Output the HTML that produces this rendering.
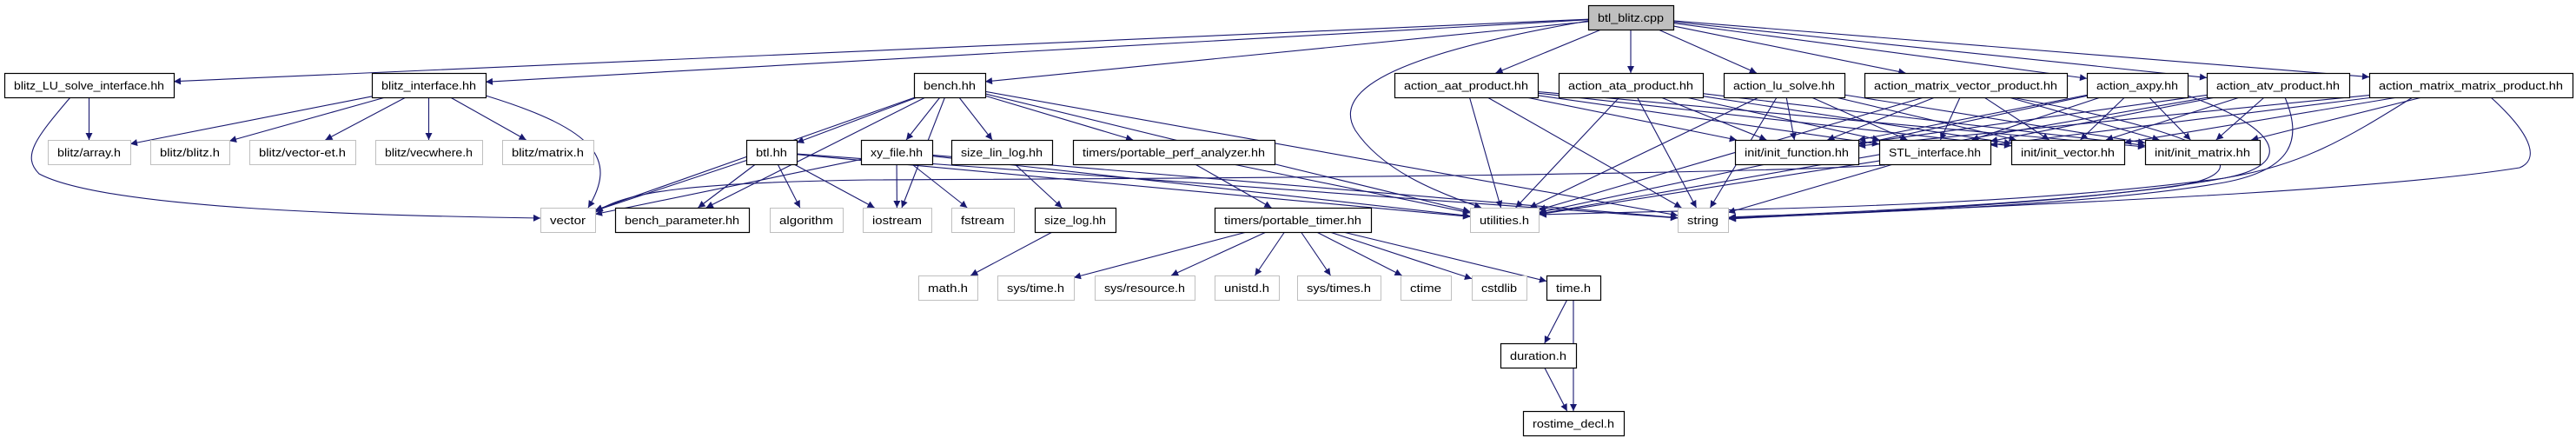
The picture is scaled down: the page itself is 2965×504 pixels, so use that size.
<!DOCTYPE html>
<html><head><meta charset="utf-8">
<style>
html,body{margin:0;padding:0;background:#fff;}
svg{display:block;}
text{font-family:"Liberation Sans",sans-serif;font-size:13px;fill:#000;}
</style></head>
<body>
<svg id="g" xmlns="http://www.w3.org/2000/svg" width="2965" height="504" viewBox="0 0 2965 504">
<defs><marker id="ah" viewBox="0 0 10 10" refX="10" refY="5" markerWidth="10" markerHeight="8" markerUnits="userSpaceOnUse" orient="auto"><path d="M0,0 L10,5 L0,10 z" fill="#191970"/></marker></defs>
<g id="edges"></g><g id="nodes"></g>
</svg>
<script>
var R=[6,84,161,239,317,395,473],H=28;
var N={
"btl_blitz.cpp":[1828,1926,0,"c"],
"blitz_LU_solve_interface.hh":[5,200,1,"b"],
"blitz_interface.hh":[428,559,1,"b"],
"bench.hh":[1052,1134,1,"b"],
"action_aat_product.hh":[1605,1770,1,"b"],
"action_ata_product.hh":[1794,1960,1,"b"],
"action_lu_solve.hh":[1984,2123,1,"b"],
"action_matrix_vector_product.hh":[2146,2379,1,"b"],
"action_axpy.hh":[2402,2518,1,"b"],
"action_atv_product.hh":[2540,2704,1,"b"],
"action_matrix_matrix_product.hh":[2727,2961,1,"b"],
"blitz/array.h":[55,150,2,"g"],
"blitz/blitz.h":[173,264,2,"g"],
"blitz/vector-et.h":[287,409,2,"g"],
"blitz/vecwhere.h":[432,555,2,"g"],
"blitz/matrix.h":[578,683,2,"g"],
"btl.hh":[859,917,2,"b"],
"xy_file.hh":[991,1073,2,"b"],
"size_lin_log.hh":[1095,1211,2,"b"],
"timers/portable_perf_analyzer.hh":[1235,1467,2,"b"],
"init/init_function.hh":[1997,2139,2,"b"],
"STL_interface.hh":[2163,2291,2,"b"],
"init/init_vector.hh":[2315,2445,2,"b"],
"init/init_matrix.hh":[2469,2601,2,"b"],
"vector":[622,685,3,"g"],
"bench_parameter.hh":[708,862,3,"b"],
"algorithm":[886,970,3,"g"],
"iostream":[993,1072,3,"g"],
"fstream":[1095,1167,3,"g"],
"size_log.hh":[1191,1284,3,"b"],
"timers/portable_timer.hh":[1398,1578,3,"b"],
"utilities.h":[1692,1771,3,"g"],
"string":[1931,1989,3,"g"],
"math.h":[1057,1125,4,"g"],
"sys/time.h":[1148,1236,4,"g"],
"sys/resource.h":[1260,1375,4,"g"],
"unistd.h":[1398,1472,4,"g"],
"sys/times.h":[1493,1589,4,"g"],
"ctime":[1612,1670,4,"g"],
"cstdlib":[1694,1757,4,"g"],
"time.h":[1780,1842,4,"b"],
"duration.h":[1727,1814,5,"b"],
"rostime_decl.h":[1753,1869,6,"b"]
};
var P={
"blitz_LU_solve_interface.hh|vector":"M81,112 C40,160 25,180 45,200 C120,240 420,248 622,251",
"blitz_interface.hh|vector":"M559,110 C690,150 710,185 677,239",
"btl_blitz.cpp|utilities.h":"M1828,24 C1620,60 1530,100 1560,150 C1590,195 1650,220 1705,239",
"STL_interface.hh|vector":"M2170,190 C2000,200 1500,205 1000,207 C800,210 720,220 686,244",
"action_axpy.hh|string":"M2518,110 C2630,150 2640,190 2560,205 C2400,235 2100,245 1990,250",
"action_atv_product.hh|string":"M2630,112 C2650,160 2640,195 2560,210 C2400,238 2100,246 1990,251",
"action_matrix_matrix_product.hh|string":"M2867,112 C2920,160 2920,185 2900,193 C2700,225 2200,240 1990,252",
"action_matrix_matrix_product.hh|utilities.h":"M2777,112 C2700,160 2650,190 2560,205 C2300,240 2000,240 1772,247",
"action_matrix_vector_product.hh|string":"M2315,112 C2580,160 2600,200 2500,215 C2300,240 2100,246 1990,251"
};
var E=[
["btl_blitz.cpp",["blitz_LU_solve_interface.hh","blitz_interface.hh","bench.hh","action_aat_product.hh","action_ata_product.hh","action_lu_solve.hh","action_matrix_vector_product.hh","action_axpy.hh","action_atv_product.hh","action_matrix_matrix_product.hh","utilities.h"]],
["blitz_LU_solve_interface.hh",["blitz/array.h","vector"]],
["blitz_interface.hh",["blitz/array.h","blitz/blitz.h","blitz/vector-et.h","blitz/vecwhere.h","blitz/matrix.h","vector"]],
["bench.hh",["btl.hh","xy_file.hh","size_lin_log.hh","timers/portable_perf_analyzer.hh","bench_parameter.hh","vector","iostream","utilities.h","string"]],
["btl.hh",["vector","bench_parameter.hh","algorithm","iostream","utilities.h","string"]],
["xy_file.hh",["vector","iostream","fstream","utilities.h","string"]],
["size_lin_log.hh",["size_log.hh"]],
["size_log.hh",["math.h"]],
["timers/portable_perf_analyzer.hh",["timers/portable_timer.hh","utilities.h"]],
["timers/portable_timer.hh",["sys/time.h","sys/resource.h","unistd.h","sys/times.h","ctime","cstdlib","time.h"]],
["time.h",["duration.h","rostime_decl.h"]],
["duration.h",["rostime_decl.h"]],
["STL_interface.hh",["vector","utilities.h","string"]]
];
var acts=["action_aat_product.hh","action_ata_product.hh","action_lu_solve.hh","action_matrix_vector_product.hh","action_axpy.hh","action_atv_product.hh","action_matrix_matrix_product.hh"];
acts.forEach(function(a){E.push([a,["utilities.h","string","init/init_function.hh","init/init_vector.hh","init/init_matrix.hh","STL_interface.hh"]]);});
function box(n){var d=N[n];return {x1:d[0],x2:d[1],y1:R[d[2]],y2:R[d[2]]+H,cx:(d[0]+d[1])/2,cy:R[d[2]]+H/2};}
function clip(b,dx,dy){
 var tx=dx?((dx>0?b.x2-b.cx:b.x1-b.cx)/dx):1e9, ty=dy?((dy>0?b.y2-b.cy:b.y1-b.cy)/dy):1e9;
 var t=Math.min(Math.abs(tx),Math.abs(ty));return [b.cx+dx*t,b.cy+dy*t];}
var NS="http://www.w3.org/2000/svg",ge=document.getElementById("edges"),gn=document.getElementById("nodes");
E.forEach(function(e){var s=box(e[0]);e[1].forEach(function(t){var b=box(t);var d;
 if(P[e[0]+"|"+t]){d=P[e[0]+"|"+t];}else{
 var dx=b.cx-s.cx,dy=b.cy-s.cy;var p=clip(s,dx,dy),q=clip(b,-dx,-dy);d="M"+p[0]+","+p[1]+" L"+q[0]+","+q[1];}
 var l=document.createElementNS(NS,"path");l.setAttribute("d",d);l.setAttribute("fill","none");
 l.setAttribute("stroke","#191970");l.setAttribute("stroke-width","1.1");l.setAttribute("marker-end","url(#ah)");ge.appendChild(l);});});
for(var n in N){var b=box(n),d=N[n];
 var r=document.createElementNS(NS,"rect");r.setAttribute("x",b.x1+0.5);r.setAttribute("y",b.y1+0.5);r.setAttribute("width",b.x2-b.x1);r.setAttribute("height",H);
 r.setAttribute("fill",d[3]=="c"?"#bfbfbf":"#fff");r.setAttribute("stroke",d[3]=="g"?"#bfbfbf":"#000");r.setAttribute("stroke-width",d[3]=="g"?"1":"1.2");gn.appendChild(r);
 var t=document.createElementNS(NS,"text");t.setAttribute("x",b.cx);t.setAttribute("y",b.cy+5);t.setAttribute("text-anchor","middle");
 t.setAttribute("textLength",Math.max(10,b.x2-b.x1-22));t.setAttribute("lengthAdjust","spacingAndGlyphs");t.textContent=n;gn.appendChild(t);}
</script>
</body></html>
